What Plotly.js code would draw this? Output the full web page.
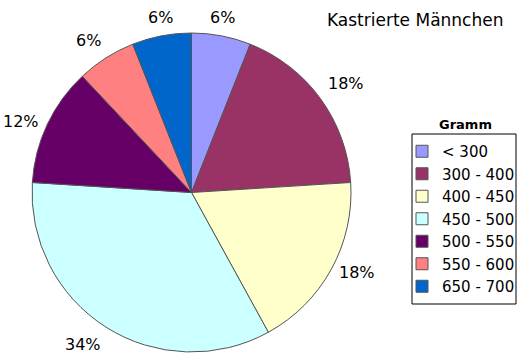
<!DOCTYPE html>
<html><head><meta charset="utf-8">
<script src="https://cdn.plot.ly/plotly-3.0.1.min.js"></script>
<style>html,body{margin:0;padding:0;background:#fff}#c{width:523px;height:361px}</style>
</head><body><div id="c"></div>
<script>
const categories = ["< 300","300 - 400","400 - 450","450 - 500","500 - 550","550 - 600","650 - 700"];
const values = [6,18,18,34,12,6,6];
const colors = ["#9999FF","#993366","#FFFFCC","#CCFFFF","#660066","#FF8080","#0066CC"];
const titleText = "Kastrierte Männchen";
const legendTitle = "Gramm";

const W = 523, H = 361;
// pie geometry (pixels)
const cx = 191.5, cy = 192.5, R = 159.5, labelDist = 166;

const trace = {
  type: "pie", labels: categories, values: values, sort: false,
  direction: "clockwise", rotation: 0,
  marker: {colors: colors, line: {color: "#555555", width: 1}},
  textinfo: "none", textposition: "none",
  domain: {x: [(cx - R) / W, (cx + R) / W], y: [1 - (cy + R) / H, 1 - (cy - R) / H]},
  automargin: false, hoverinfo: "none"
};

// percentage labels, placed from the data (cumulative angles)
const total = values.reduce((a, b) => a + b, 0);
let cum = 0;
const labelAnns = values.map(v => {
  const mid = (cum + v / 2) / total * 2 * Math.PI;
  cum += v;
  const s = Math.sin(mid), c = Math.cos(mid);
  const px = cx + labelDist * s, py = cy - labelDist * c;
  return {
    text: Math.round(v / total * 100) + "%",
    x: px / W, y: 1 - py / H, xref: "paper", yref: "paper",
    xanchor: s > 0.4 ? "left" : (s < -0.4 ? "right" : "center"),
    yanchor: c > 0.5 ? "bottom" : (c < -0.5 ? "top" : "middle"),
    showarrow: false,
    font: {family: "DejaVu Sans", size: 16, color: "#000"}
  };
});

const layout = {
  width: W, height: H, margin: {l: 0, r: 0, t: 0, b: 0},
  paper_bgcolor: "#fff", showlegend: true,
  legend: {x: 402 / W, y: 1 - 135 / H, xanchor: "left", yanchor: "top",
    borderwidth: 0, bgcolor: "rgba(0,0,0,0)",
    font: {family: "DejaVu Sans", size: 15, color: "#000"},
    itemwidth: 30, traceorder: "normal"},
  shapes: [{type: "rect", xref: "paper", yref: "paper",
    x0: 412 / W, x1: 516 / W, y0: 1 - 304 / H, y1: 1 - 134 / H,
    line: {color: "#000", width: 1}, fillcolor: "rgba(0,0,0,0)", layer: "below"}],
  annotations: [
    {text: titleText, x: 505 / W, y: 1 - 20 / H, xref: "paper", yref: "paper", xanchor: "right", yanchor: "middle", showarrow: false, font: {family: "DejaVu Sans", size: 17, color: "#000"}},
    {text: "<b>" + legendTitle + "</b>", x: 465 / W, y: 1 - 124 / H, xref: "paper", yref: "paper", xanchor: "center", yanchor: "middle", showarrow: false, font: {family: "DejaVu Sans", size: 13, color: "#000"}}
  ].concat(labelAnns)
};
Plotly.newPlot("c", [trace], layout, {staticPlot: true});
</script></body></html>
